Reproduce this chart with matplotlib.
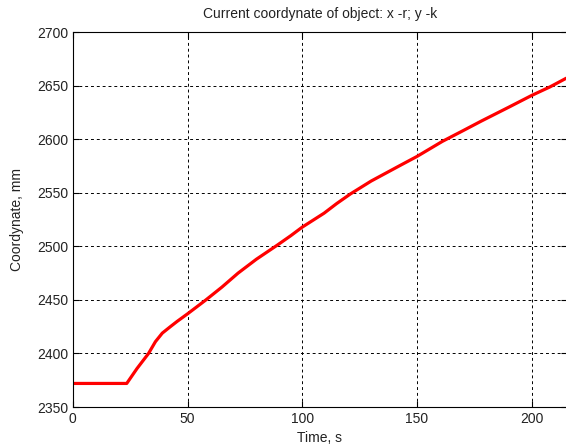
import matplotlib
matplotlib.use("Agg")
import matplotlib.pyplot as plt

time_s = [0, 23.5, 28, 33, 36, 39, 42.5, 45.5, 50, 58, 65, 72, 80, 89, 95, 100,
          109.5, 115, 121, 130, 143, 150, 161, 170, 178, 190, 200, 208, 215]
coord_mm = [2372, 2372, 2386, 2400, 2411, 2419, 2425, 2430, 2437, 2450, 2462, 2475,
            2488, 2501, 2510, 2518, 2531, 2540, 2549, 2561, 2576, 2584, 2598,
            2608, 2617, 2630, 2641, 2649, 2657]
x_ticks = [0, 50, 100, 150, 200]
y_ticks = [2350, 2400, 2450, 2500, 2550, 2600, 2650, 2700]

plt.rcParams['font.family'] = ['Liberation Sans', 'DejaVu Sans']
txt = '#222222'

fig = plt.figure(figsize=(5.66, 4.45), dpi=100)
ax = fig.add_axes([72.8/566, 1-407/445, 1-72.8/566+0.002, (407-32.2)/445])
ax.plot(time_s, coord_mm, color='#ff0000', linewidth=2.3, solid_capstyle='round',
        solid_joinstyle='round')
ax.set_xlim(0, 215.4)
ax.set_ylim(2350, 2700)
ax.set_xticks(x_ticks)
ax.set_yticks(y_ticks)
ax.grid(True, color='black', linestyle=(0, (3, 3)), linewidth=0.7)
ax.tick_params(direction='in', labelsize=10, top=True, right=True, length=4, width=0.8,
               labelcolor=txt)
for s in ax.spines.values():
    s.set_linewidth(0.8)
ax.set_title('Current coordynate of object: x -r; y -k', fontsize=10, pad=10, color=txt)
ax.set_xlabel('Time, s', fontsize=10, labelpad=4, color=txt)
ax.set_ylabel('Coordynate, mm', fontsize=10, labelpad=9, color=txt)
fig.savefig('out.png', dpi=100)
